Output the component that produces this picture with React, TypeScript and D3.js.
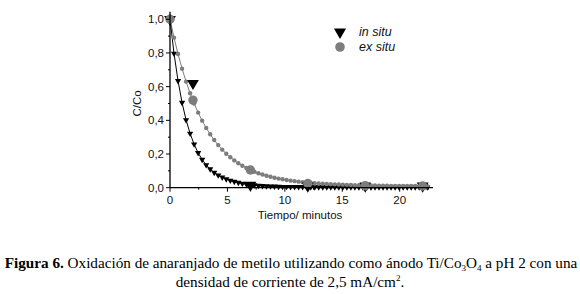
import React from "react";
import * as d3 from "d3";

const times = [0,0.35,0.7,1.05,1.4,1.75,2.1,2.45,2.8,3.15,3.5,3.85,4.2,4.55,4.9,5.25,5.6,5.95,6.3,6.65,7,7.35,7.7,8.05,8.4,8.75,9.1,9.45,9.8,10.15,10.5,10.85,11.2,11.55,11.9,12.25,12.6,12.95,13.3,13.65,14,14.35,14.7,15.05,15.4,15.75,16.1,16.45,16.8,17.15,17.5,17.85,18.2,18.55,18.9,19.25,19.6,19.95,20.3,20.65,21,21.35,21.7,22.05,22.4];

const inSituFit = [1.0,0.797,0.634,0.505,0.402,0.322,0.258,0.207,0.167,0.135,0.11,0.09,0.074,0.061,0.051,0.043,0.036,0.03,0.025,0.021,0.018,0.015,0.013,0.011,0.01,0.009,0.008,0.007,0.006,0.006,0.005,0.005,0.005,0.005,0.004,0.004,0.004,0.004,0.004,0.004,0.004,0.004,0.004,0.004,0.004,0.004,0.004,0.003,0.003,0.003,0.003,0.003,0.003,0.003,0.003,0.003,0.003,0.003,0.003,0.003,0.003,0.003,0.003,0.003,0.003];

const exSituFit = [1.0,0.891,0.794,0.707,0.63,0.561,0.5,0.446,0.398,0.355,0.317,0.283,0.253,0.226,0.202,0.181,0.162,0.145,0.13,0.117,0.105,0.095,0.086,0.078,0.071,0.065,0.059,0.054,0.05,0.046,0.042,0.039,0.036,0.033,0.031,0.029,0.027,0.025,0.024,0.022,0.021,0.02,0.019,0.018,0.017,0.016,0.015,0.015,0.014,0.014,0.013,0.013,0.012,0.012,0.012,0.011,0.011,0.011,0.01,0.01,0.01,0.01,0.009,0.009,0.009];

const expTimes = [0, 2, 7, 12, 17, 22];
const inSituExp = [1.0, 0.62, 0.015, 0.01, 0.01, 0.01];
const exSituExp = [1.0, 0.52, 0.105, 0.025, 0.012, 0.01];

const xTicks = [0, 5, 10, 15, 20];
const xMinorTicks = [2.5, 7.5, 12.5, 17.5, 22.5];
const yTicks = [0, 0.2, 0.4, 0.6, 0.8, 1.0];
const yMinorTicks = [0.1, 0.3, 0.5, 0.7, 0.9];

const legendLabels = ["in situ", "ex situ"];
const GREY = "#7d7d7d";

export default function App() {
  const x = d3.scaleLinear().domain([0, 22.9]).range([170, 433]);
  const y = d3.scaleLinear().domain([0, 1.045]).range([187.7, 11.7]);
  const sans = "'Liberation Sans', Arial, sans-serif";
  const serif = "'Liberation Serif', 'Times New Roman', serif";

  const line = d3.line<number>().x((_, i) => x(times[i])).y((d) => y(d));
  const triSmall = d3.symbol().type(d3.symbolTriangle).size(17)()!;
  const triBig = d3.symbol().type(d3.symbolTriangle).size(60)()!;
  const fmt = (v: number) => v.toFixed(1).replace(".", ",");

  return (
    <div style={{ position: "absolute", left: 0, top: 0 }}>
      <svg width={580} height={294} style={{ display: "block", background: "#fff" }}>
        <path d={line(exSituFit)!} fill="none" stroke={GREY} strokeWidth={1} />
        <path d={line(inSituFit)!} fill="none" stroke="#000" strokeWidth={1} />
        {inSituFit.map((v, i) => (
          <path key={"ts" + i} d={triSmall} transform={`translate(${x(times[i])},${y(v)}) rotate(180)`} fill="#000" />
        ))}
        {exSituFit.map((v, i) => (
          <circle key={"cs" + i} cx={x(times[i])} cy={y(v)} r={2.2} fill={GREY} />
        ))}
        {inSituExp.map((v, i) => (
          <path key={"tb" + i} d={triBig} transform={`translate(${x(expTimes[i])},${y(v)}) rotate(180)`} fill="#000" />
        ))}
        {exSituExp.map((v, i) => (
          <circle key={"cb" + i} cx={x(expTimes[i])} cy={y(v)} r={4.7} fill={GREY} />
        ))}

        <line x1={x(0)} x2={x(0)} y1={y(0)} y2={y(1.045)} stroke="#000" strokeWidth={1.3} />
        <line x1={x(0)} x2={x(22.9)} y1={y(0)} y2={y(0)} stroke="#000" strokeWidth={1.3} />
        {yTicks.map((t) => (
          <g key={"yt" + t}>
            <line x1={x(0) - 4} x2={x(0)} y1={y(t)} y2={y(t)} stroke="#000" />
            <text x={x(0) - 6} y={y(t)} dy="0.35em" textAnchor="end" fontFamily={sans} fontSize={11.5} fill="#111">{fmt(t)}</text>
          </g>
        ))}
        {yMinorTicks.map((t) => (
          <line key={"ym" + t} x1={x(0) - 2} x2={x(0)} y1={y(t)} y2={y(t)} stroke="#000" />
        ))}
        {xTicks.map((t) => (
          <g key={"xt" + t}>
            <line x1={x(t)} x2={x(t)} y1={y(0)} y2={y(0) + 4} stroke="#000" />
            <text x={x(t)} y={y(0) + 16} textAnchor="middle" fontFamily={sans} fontSize={11.5} fill="#111">{t}</text>
          </g>
        ))}
        {xMinorTicks.map((t) => (
          <line key={"xm" + t} x1={x(t)} x2={x(t)} y1={y(0)} y2={y(0) + 2} stroke="#000" />
        ))}
        <text x={300} y={219} textAnchor="middle" fontFamily={sans} fontSize={11.5} fill="#111">Tiempo/ minutos</text>
        <text transform={`translate(141,${y(0.5)}) rotate(-90)`} textAnchor="middle" fontFamily={sans} fontSize={11.5} fill="#111">C/Co</text>

        <path d={d3.symbol().type(d3.symbolTriangle).size(64)()!} transform="translate(340,32) rotate(180)" fill="#000" />
        <circle cx={340} cy={47} r={4.8} fill={GREY} />
        <text x={359} y={32} dy="0.35em" fontFamily={sans} fontStyle="italic" fontSize={12.5} fill="#111">{legendLabels[0]}</text>
        <text x={359} y={47} dy="0.35em" fontFamily={sans} fontStyle="italic" fontSize={12.5} fill="#111">{legendLabels[1]}</text>

        <text x={291} y={268} textAnchor="middle" fontFamily={serif} fontSize={15.2}>
          <tspan fontWeight="bold">Figura 6.</tspan>
          <tspan> Oxidación de anaranjado de metilo utilizando como ánodo Ti/Co</tspan>
          <tspan fontSize={9} dy={3}>3</tspan>
          <tspan dy={-3}>O</tspan>
          <tspan fontSize={9} dy={3}>4</tspan>
          <tspan dy={-3}> a pH 2 con una</tspan>
        </text>
        <text x={290} y={287} textAnchor="middle" fontFamily={serif} fontSize={15.2}>
          <tspan>densidad de corriente de 2,5 mA/cm</tspan>
          <tspan fontSize={9} dy={-6}>2</tspan>
          <tspan dy={6}>.</tspan>
        </text>
      </svg>
    </div>
  );
}
